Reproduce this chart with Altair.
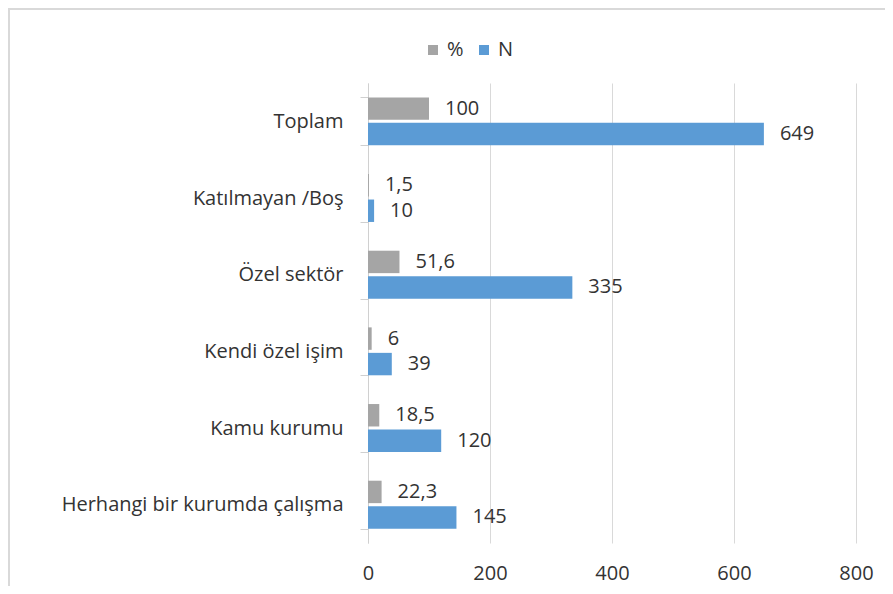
import altair as alt
import pandas as pd

categories = ['Toplam ', 'Katılmayan /Boş', 'Özel sektör', 'Kendi özel işim',
              'Kamu kurumu', 'Herhangi bir kurumda çalışma']
pct_values = [100, 1.5, 51.6, 6, 18.5, 22.3]
n_values = [649, 10, 335, 39, 120, 145]
series = ['%', 'N']
series_colors = ['#a5a5a5', '#5b9bd5']
x_ticks = [0, 200, 400, 600, 800]


def fmt(v):
    return ('%g' % v).replace('.', ',')


rows = []
for c, p, n in zip(categories, pct_values, n_values):
    rows.append({'cat': c, 'series': '%', 'value': p, 'label': fmt(p)})
    rows.append({'cat': c, 'series': 'N', 'value': n, 'label': fmt(n)})
df = pd.DataFrame(rows)

W, H = 488, 460
FONT = 'Open Sans'
TXT = '#333333'
FS = 20

y_enc = alt.Y('cat:N', sort=categories, title=None,
              scale=alt.Scale(paddingInner=0.375, paddingOuter=0.1875),
              axis=alt.Axis(tickBand='extent', tickSize=8, tickColor='#d0d0d0',
                            domainColor='#d0d0d0', labelPadding=17, labelFont=FONT,
                            labelFontSize=FS, labelColor=TXT, grid=False, labelLimit=400))
yoff = alt.YOffset('series:N', sort=series, scale=alt.Scale(paddingInner=0.12))
x_enc = alt.X('value:Q', title=None, scale=alt.Scale(domain=[0, 800], nice=False),
              axis=alt.Axis(values=x_ticks, domain=False, ticks=False, grid=True,
                            gridColor='#d9d9d9', labelFont=FONT, labelFontSize=FS,
                            labelColor=TXT, labelPadding=20, labelFlush=False,
                            format='d'))
color = alt.Color('series:N', sort=series,
                  scale=alt.Scale(domain=series, range=series_colors),
                  legend=alt.Legend(title=None, orient='none', legendX=55, legendY=-43,
                                    direction='horizontal', symbolType='square',
                                    symbolSize=100, symbolStrokeWidth=0,
                                    labelFont=FONT, labelFontSize=FS, labelColor=TXT,
                                    labelOffset=4, columnPadding=10))

base = alt.Chart(df)
bars = base.mark_bar().encode(y=y_enc, yOffset=yoff, x=x_enc, color=color)
labels = base.mark_text(align='left', baseline='middle', dx=16, font=FONT,
                        fontSize=FS, color=TXT).encode(
    y=alt.Y('cat:N', sort=categories), yOffset=yoff, x='value:Q', text='label:N')

border = alt.Chart(pd.DataFrame({'a': [0]})).mark_rect(
    filled=False, stroke='#d9d9d9', strokeWidth=2).encode(
    x=alt.value(-359), x2=alt.value(560), y=alt.value(-74), y2=alt.value(560))

chart = alt.layer(border, bars, labels).properties(
    width=W, height=H,
    autosize=alt.AutoSizeParams(type='none'),
    padding={'left': 360, 'top': 75, 'right': 29, 'bottom': 43},
).configure_view(stroke=None)

chart.save("out.html", embed_options={"renderer": "svg", "actions": False})
